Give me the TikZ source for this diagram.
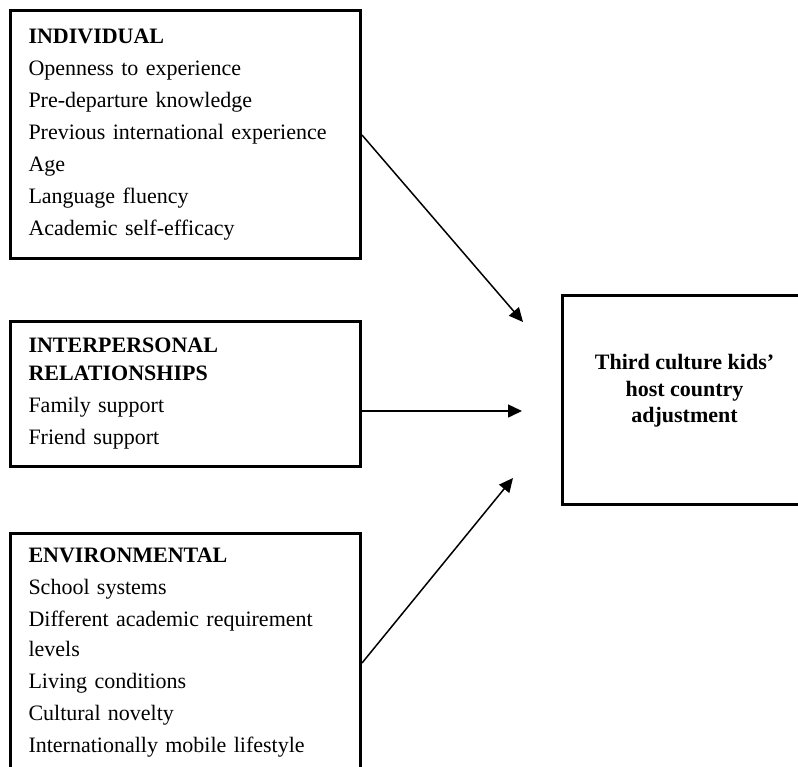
\documentclass[tikz,border=0pt]{standalone}
\usepackage{fontspec}
\setmainfont{Liberation Serif}
\usetikzlibrary{arrows.meta}
\begin{document}
\begin{tikzpicture}[x=0.5pt, y=-0.5pt,
    factor/.style={draw, line width=1.5pt, anchor=north west, align=left, text width=157pt, inner xsep=9pt, inner ysep=0pt, font=\fontsize{11}{16}\selectfont},
    link/.style={-{Triangle[length=7pt,width=6.5pt]}, line width=0.75pt}]
    \clip (0,0) rectangle (798,766);
    \node[factor, minimum height=124pt] (indiv) at (9,9) {\textbf{INDIVIDUAL}\\ Openness to experience\\ Pre-departure knowledge\\ Previous international experience\\ Age\\ Language fluency\\ Academic self-efficacy};
    \node[factor, minimum height=72.5pt] (inter) at (9,320) {\textbf{INTERPERSONAL}\\[-2pt] \textbf{RELATIONSHIPS}\\ Family support\\ Friend support};
    \node[factor, minimum height=119pt] (envir) at (9,532) {\textbf{ENVIRONMENTAL}\\ School systems\\ Different academic requirement\\[-1pt] levels\\ Living conditions\\ Cultural novelty\\ Internationally mobile lifestyle};
    \node[draw, line width=1.5pt, anchor=north west, minimum width=122pt, minimum height=104.5pt] (tck) at (561,294) {};
    \node[align=center, font=\fontsize{11}{13.3}\selectfont\bfseries] (tcklabel) at ([yshift=4.5pt]tck.center) {Third culture kids'\\ host country\\ adjustment};
    \coordinate (tip1) at (523,322);
    \coordinate (tip2) at (522,411);
    \coordinate (tip3) at (513,478);
    \draw[link] (indiv.east |- 0,135) -- (tip1);
    \draw[link] (inter.east |- tip2) -- (tip2);
    \draw[link] (envir.east |- 0,663) -- (tip3);
\end{tikzpicture}
\end{document}
